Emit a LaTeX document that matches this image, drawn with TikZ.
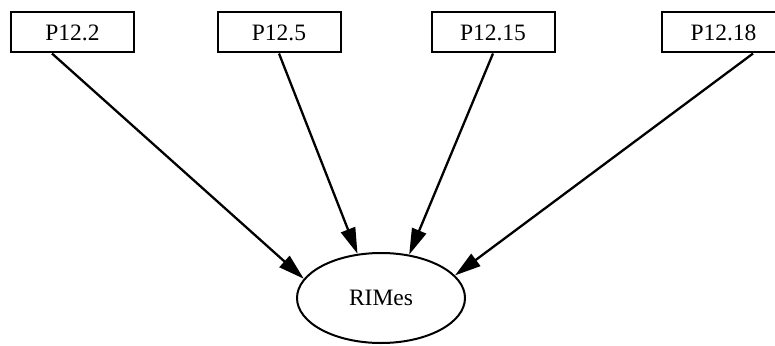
\documentclass[tikz,border=0pt]{standalone}
\usepackage{fontspec}
\setmainfont{Liberation Serif}
\usetikzlibrary{shapes.geometric,arrows.meta}
\begin{document}
\begin{tikzpicture}[x=1pt,y=-1pt,
  box/.style={draw,line width=2pt,rectangle,minimum width=123pt,minimum height=40pt,inner sep=0pt,font=\fontsize{23.5}{28}\selectfont},
  oval/.style={draw,line width=2pt,ellipse,minimum width=168pt,minimum height=90pt,inner sep=0pt,font=\fontsize{23.5}{28}\selectfont},
  edge/.style={line width=2.3pt,-{Triangle[length=26pt,width=15pt]}}]
\useasboundingbox (0,0) rectangle (775,345);
\clip (0,0) rectangle (775,345);
\node[box] (a) at (72.5,32.5) {P12.2};
\node[box] (b) at (279,32.5) {P12.5};
\node[box] (c) at (493,32.5) {P12.15};
\node[box] (d) at (723.5,32.5) {P12.18};
\node[oval] (r) at (381,298) {RIMes};
\draw[edge] ([xshift=-20.5pt]a.south) -- (r.166);
\draw[edge] (b.south) -- (r.118);
\draw[edge] (c.south) -- (r.57);
\draw[edge] ([xshift=29.5pt]d.south) -- (r.17);
\end{tikzpicture}
\end{document}
